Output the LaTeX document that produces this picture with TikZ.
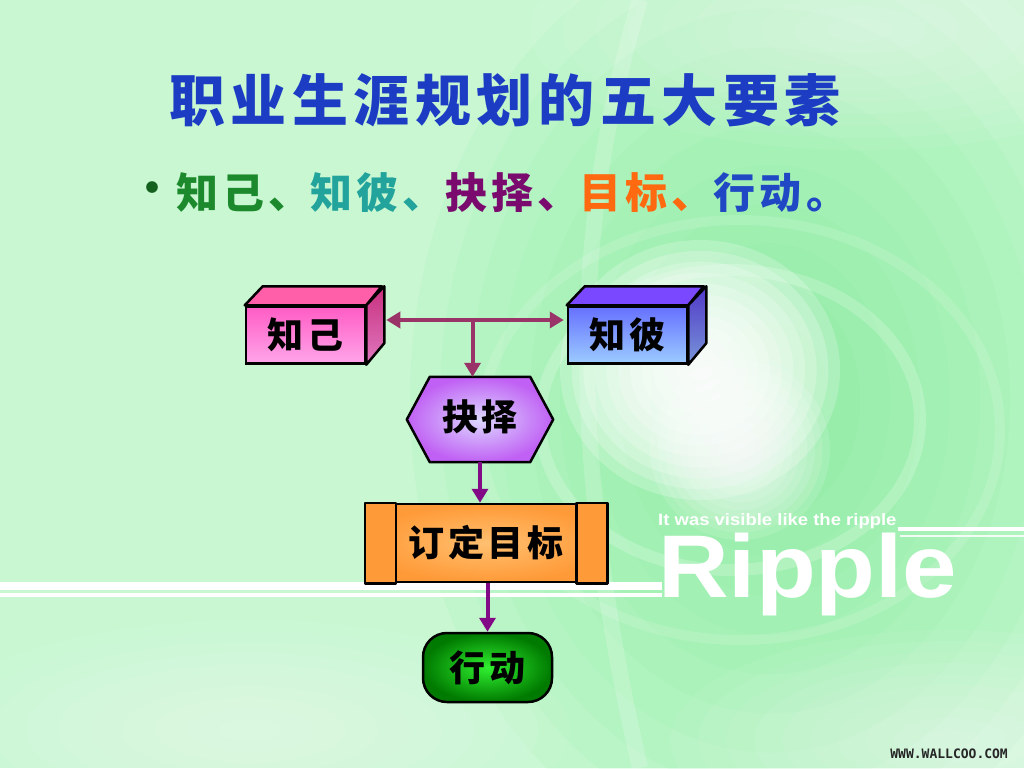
\documentclass[tikz,border=0pt]{standalone}
\usepackage{fontspec}
\newfontfamily\cjk{Noto Sans CJK SC}
\newfontfamily\lsans{Liberation Sans}
\newfontfamily\dmono{DejaVu Sans Mono}
\usetikzlibrary{arrows.meta,calc}
\definecolor{bgbase}{HTML}{C8F7D2}
\definecolor{bgmid}{HTML}{7EEC98}
\definecolor{titleblue}{HTML}{1C3CC4}
\definecolor{cgreen}{HTML}{1C8A2C}
\definecolor{cteal}{HTML}{22A39C}
\definecolor{cpurple}{HTML}{7A0A6E}
\definecolor{corange}{HTML}{FF6A10}
\definecolor{cblue}{HTML}{2048C4}
\definecolor{pinkA}{HTML}{FF5CC4}
\definecolor{pinkB}{HTML}{FFA6EA}
\definecolor{pinkTop}{HTML}{FF5FA8}
\definecolor{pinkSideA}{HTML}{C8307E}
\definecolor{pinkSideB}{HTML}{E078C0}
\definecolor{blueA}{HTML}{6670FF}
\definecolor{blueB}{HTML}{9CCCFF}
\definecolor{blueTop}{HTML}{7A48FF}
\definecolor{blueSideA}{HTML}{5038C8}
\definecolor{blueSideB}{HTML}{7896D8}
\definecolor{hexIn}{HTML}{DCD8FF}
\definecolor{hexOut}{HTML}{C060F4}
\definecolor{orA}{HTML}{FF9A38}
\definecolor{orIn}{HTML}{FFC070}
\definecolor{grIn}{HTML}{30F030}
\definecolor{grOut}{HTML}{007A00}
\definecolor{arrMauve}{HTML}{9A3468}
\definecolor{arrPurple}{HTML}{820A86}
\begin{document}
\begin{tikzpicture}[x=1pt,y=-1pt,
  lbl/.style={inner sep=0, text=black, font=\cjk\bfseries\fontsize{36}{40}\selectfont\addfontfeature{LetterSpace=10}},
  frontbox/.style={lbl, draw=black, line width=2.5, minimum width=119, minimum height=57},
  face/.style={draw=black, line width=2.5, line join=round},
  arrM/.style={draw=arrMauve, line width=4, -{Triangle[length=14,width=16]}},
  arrD/.style={draw=arrMauve, line width=4, {Triangle[length=14,width=16]}-{Triangle[length=14,width=16]}},
  arrP/.style={draw=arrPurple, line width=4, -{Triangle[length=14,width=16]}}
]
\useasboundingbox (0,0) rectangle (1024,768);
% background
\fill[bgbase] (0,0) rectangle (1024,768);
\foreach \k in {1,...,12}{
  \fill[bgmid, opacity=.09] (770,400) ellipse [x radius={360*(13-\k)/12}, y radius={470*(13-\k)/12}];
}
\foreach \k in {1,...,10}{
  \fill[white, opacity=.06] (860,30) ellipse [x radius={330*(11-\k)/10}, y radius={120*(11-\k)/10}];
  \fill[white, opacity=.06] (950,740) ellipse [x radius={280*(11-\k)/10}, y radius={110*(11-\k)/10}];
  \fill[white, opacity=.05] (250,730) ellipse [x radius={320*(11-\k)/10}, y radius={110*(11-\k)/10}];
}
\draw[white, opacity=.2, line width=12] (730,420) ellipse [x radius=190, y radius=150];
\draw[white, opacity=.13, line width=10] (740,430) ellipse [x radius=260, y radius=210];
\foreach \k in {1,...,12}{
  \fill[white, opacity=.22] (700,370) ellipse [x radius={140*(13-\k)/12}, y radius={130*(13-\k)/12}];
  \fill[white, opacity=.12] (740,450) ellipse [x radius={90*(13-\k)/12}, y radius={90*(13-\k)/12}];
}
\draw[white, opacity=.18, line width=16] (640,0) .. controls (580,200) and (560,420) .. (640,768);
% white lines and watermark texts
\fill[white] (0,582) rectangle (662,590);
\fill[white] (0,593) rectangle (662,597);
\fill[white] (898,527) rectangle (1024,531);
\fill[white, opacity=.85] (900,535) rectangle (1024,537);
\node[font=\lsans\bfseries\fontsize{89}{89}\selectfont, text=white, anchor=base west, inner sep=0, xscale=1.1] (rip) at (658,597) {Ripple};
\node[font=\lsans\bfseries\fontsize{16.5}{17}\selectfont, text=white, anchor=base west, inner sep=0, xscale=1.12] (ripsub) at (658,525) {It was visible like the ripple};
\node[font=\dmono\bfseries\fontsize{13}{13}\selectfont, text=black!85, anchor=base east, inner sep=0] (wm) at (1008,758) {WWW.WALLCOO.COM};
% title
\node[font=\cjk\bfseries\fontsize{56}{60}\selectfont\addfontfeature{LetterSpace=10}, text=titleblue, inner sep=0] (title) at (505,100) {职业生涯规划的五大要素};
\node[font=\cjk\bfseries\fontsize{42}{44}\selectfont, text=cgreen!70!black, inner sep=0] (dot) at (152,193) {•};
\node[font=\cjk\bfseries\fontsize{42}{44}\selectfont\addfontfeature{LetterSpace=10}, anchor=west, inner sep=0] (items) at (176,193)
 {\textcolor{cgreen}{知己、}\textcolor{cteal}{知彼、}\textcolor{cpurple}{抉择、}\textcolor{corange}{目标、}\textcolor{cblue}{行动。}};
% 知己 box
\node[frontbox, top color=pinkA, bottom color=pinkB] (zj) at (305.5,335) {知己};
\filldraw[face, fill=pinkTop] (zj.north west) -- ++(18,-19) -- ++(119,0) -- (zj.north east) -- cycle;
\filldraw[face, top color=pinkSideA, bottom color=pinkSideB] (zj.north east) -- ++(18,-19) -- ++(0,57) -- (zj.south east) -- cycle;
% 知彼 box
\node[frontbox, top color=blueA, bottom color=blueB] (zb) at (627.5,335) {知彼};
\filldraw[face, fill=blueTop] (zb.north west) -- ++(18,-19) -- ++(119,0) -- (zb.north east) -- cycle;
\filldraw[face, top color=blueSideA, bottom color=blueSideB] (zb.north east) -- ++(18,-19) -- ++(0,57) -- (zb.south east) -- cycle;
% hexagon
\node[minimum width=146, minimum height=85, inner sep=0] (hex) at (480,419.5) {};
\filldraw[face, inner color=hexIn, outer color=hexOut] (hex.west) -- ([xshift=23]hex.north west) -- ([xshift=-23]hex.north east) -- (hex.east) -- ([xshift=-23]hex.south east) -- ([xshift=23]hex.south west) -- cycle;
\node[lbl] (hexl) at ([yshift=3]hex.center) {抉择};
% goal box
\node[lbl, draw=black, line width=2.5, minimum width=240, minimum height=78, inner color=orIn, outer color=orA] (goal) at (486,543) {订定目标};
\filldraw[face, fill=orA] (goal.north west) rectangle ([xshift=31]goal.south west);
\filldraw[face, fill=orA] (goal.north east) rectangle ([xshift=-31]goal.south east);
% action
\node[lbl, draw=black, line width=2.5, rounded corners=24, minimum width=129, minimum height=69, inner color=grIn, outer color=grOut] (act) at (487.5,667.5) {行动};
% connectors
\coordinate (J) at ($(zj.east)!0.53!(zb.west)+(0,-15)$);
\draw[arrD] ($(zj.east)+(20,-15)$) -- ($(zb.west)+(-3,-15)$);
\draw[arrM] (J) -- (J |- hex.north);
\draw[arrP] (hex.south) -- (hex.south |- goal.north);
\draw[arrP] (act.north |- goal.south) -- (act.north);
\end{tikzpicture}
\end{document}
